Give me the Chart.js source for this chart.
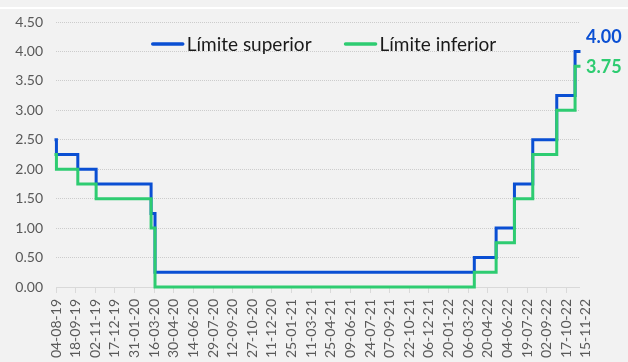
<!DOCTYPE html>
<html>
<head>
<meta charset="utf-8">
<script src="https://cdn.jsdelivr.net/npm/chart.js@4.4.1/dist/chart.umd.min.js"></script>
<style>
  html, body { margin: 0; padding: 0; background: #f2f2f2; overflow: hidden; }
  #wrap { position: relative; width: 628px; height: 362px; }
</style>
</head>
<body>
<div id="wrap"><canvas id="c" width="628" height="362"></canvas></div>
<script>
// Federal funds target range: dates on which the range changed
const changeDates = ['2019-08-04', '2019-08-05', '2019-09-23', '2019-11-04', '2020-03-09', '2020-03-18',
                     '2022-03-20', '2022-05-09', '2022-06-20', '2022-08-01', '2022-09-25', '2022-11-06', '2022-11-15'];
const upperLimit = [2.50, 2.25, 2.00, 1.75, 1.25, 0.25, 0.50, 1.00, 1.75, 2.50, 3.25, 4.00, 4.00];
const lowerLimit = [2.25, 2.00, 1.75, 1.50, 1.00, 0.00, 0.25, 0.75, 1.50, 2.25, 3.00, 3.75, 3.75];

const seriesNames = ['Límite superior', 'Límite inferior'];
const seriesColors = ['#0a4fd3', '#2ecc71'];

// Axis labels, one every 45 days from the first date
const xTickLabels = ['04-08-19', '18-09-19', '02-11-19', '17-12-19', '31-01-20', '16-03-20', '30-04-20',
                     '14-06-20', '29-07-20', '12-09-20', '27-10-20', '11-12-20', '25-01-21', '11-03-21',
                     '25-04-21', '09-06-21', '24-07-21', '07-09-21', '22-10-21', '06-12-21', '20-01-22',
                     '06-03-22', '20-04-22', '04-06-22', '19-07-22', '02-09-22', '17-10-22', '15-11-22'];
const tickStepDays = 45;
const yTicks = [0, 0.5, 1, 1.5, 2, 2.5, 3, 3.5, 4, 4.5];

const DAY = 86400000;
const toDay = s => Date.UTC(+s.slice(0, 4), +s.slice(5, 7) - 1, +s.slice(8, 10)) / DAY;
const firstDay = toDay(changeDates[0]);
const lastDay = toDay(changeDates[changeDates.length - 1]);

const FONT = 'Lato, "Open Sans", sans-serif';

const pairs = vals => changeDates.map((d, i) => ({ x: toDay(d), y: vals[i] }));

const chrome = {
  id: 'chrome',
  beforeDraw(chart) {
    const ctx = chart.ctx;
    ctx.save();
    ctx.fillStyle = '#f2f2f2';
    ctx.fillRect(0, 0, chart.width, chart.height);
    ctx.fillStyle = '#ffffff';
    ctx.fillRect(0, 7, chart.width, 2);
    ctx.restore();
  },
  afterDraw(chart) {
    const ctx = chart.ctx;
    const area = chart.chartArea;
    const y = chart.scales.y;
    ctx.save();
    // legend
    ctx.font = '19px ' + FONT;
    ctx.textBaseline = 'middle';
    const sample = 32, gap = 3, itemGap = 33;
    const widths = seriesNames.map(n => ctx.measureText(n).width);
    const total = widths.reduce((a, w) => a + sample + gap + w, 0) + itemGap * (seriesNames.length - 1);
    let x = 324 - total / 2;
    const ly = 44;
    seriesNames.forEach((n, i) => {
      ctx.strokeStyle = seriesColors[i];
      ctx.lineWidth = 3.5;
      ctx.lineCap = 'round';
      ctx.beginPath();
      ctx.moveTo(x + 1, ly);
      ctx.lineTo(x + sample - 1, ly);
      ctx.stroke();
      ctx.fillStyle = '#1a1a1a';
      ctx.fillText(n, x + sample + gap, ly + 1);
      x += sample + gap + widths[i] + itemGap;
    });
    // value labels at the end of each line
    ctx.font = 'bold 18px ' + FONT;
    const ends = [upperLimit[upperLimit.length - 1], lowerLimit[lowerLimit.length - 1]];
    const offsets = [-15, 0];
    ends.forEach((v, i) => {
      ctx.fillStyle = seriesColors[i];
      ctx.fillText(v.toFixed(2), area.right + 7, y.getPixelForValue(v) + offsets[i] + 1);
    });
    ctx.restore();
  }
};

new Chart(document.getElementById('c'), {
  type: 'line',
  data: {
    datasets: [
      { label: seriesNames[0], data: pairs(upperLimit), borderColor: seriesColors[0], borderWidth: 3,
        stepped: 'before', pointRadius: 0, fill: false, order: 1, clip: false, borderCapStyle: 'square' },
      { label: seriesNames[1], data: pairs(lowerLimit), borderColor: seriesColors[1], borderWidth: 3,
        stepped: 'before', pointRadius: 0, fill: false, order: 0, clip: false, borderCapStyle: 'square' }
    ]
  },
  options: {
    responsive: false,
    animation: false,
    layout: { padding: { left: 0, right: 49, top: 22, bottom: 0 } },
    plugins: { legend: { display: false }, tooltip: { enabled: false } },
    scales: {
      x: {
        type: 'linear',
        min: firstDay,
        max: lastDay,
        afterBuildTicks(scale) {
          scale.ticks = xTickLabels.map((l, i) => ({ value: firstDay + i * tickStepDays, label: l }));
        },
        afterFit(scale) { scale.height = 75; },
        grid: {
          drawOnChartArea: false,
          drawTicks: true,
          tickLength: 6,
          tickColor: ctx => ctx.index === xTickLabels.length - 1 ? 'rgba(0,0,0,0)' : '#d9d9d9'
        },
        border: { display: true, color: '#d9d9d9', width: 1 },
        ticks: {
          autoSkip: false,
          minRotation: 90,
          maxRotation: 90,
          padding: 6,
          color: '#595959',
          font: { family: FONT, size: 14 },
          callback: (v, i) => xTickLabels[i]
        }
      },
      y: {
        min: 0,
        max: 4.5,
        afterBuildTicks(scale) { scale.ticks = yTicks.map(v => ({ value: v })); },
        afterFit(scale) { scale.width = 56; },
        grid: { color: '#cccccc', lineWidth: 1, drawTicks: false },
        border: { display: false, dash: [1, 1] },
        ticks: {
          padding: 13,
          color: '#595959',
          font: { family: FONT, size: 14 },
          callback: v => v.toFixed(2)
        }
      }
    }
  },
  plugins: [chrome]
});
</script>
</body>
</html>
